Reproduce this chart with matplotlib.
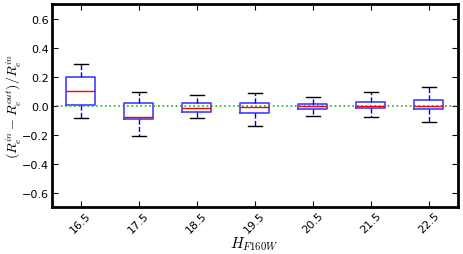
import matplotlib
matplotlib.use("Agg")
import matplotlib.pyplot as plt

plt.rcParams["mathtext.fontset"] = "cm"

mags = [16.5, 17.5, 18.5, 19.5, 20.5, 21.5, 22.5]
med = [0.10, -0.078, -0.016, -0.012, -0.004, -0.002, 0.0]
q1 = [0.007, -0.092, -0.044, -0.048, -0.023, -0.016, -0.023]
q3 = [0.195, 0.02, 0.02, 0.018, 0.014, 0.028, 0.039]
wlo = [-0.085, -0.207, -0.085, -0.143, -0.069, -0.076, -0.11]
whi = [0.29, 0.095, 0.074, 0.085, 0.057, 0.092, 0.126]

stats = []
for i, m in enumerate(mags):
    stats.append({"med": med[i], "q1": q1[i], "q3": q3[i],
                  "whislo": wlo[i], "whishi": whi[i], "fliers": [],
                  "label": str(m)})

fig = plt.figure(figsize=(4.63, 2.55), dpi=100)
ax = fig.add_axes([0.112, 0.184, 0.877, 0.796])

pos = list(range(1, len(mags) + 1))
ax.bxp(stats, positions=pos, widths=0.5, showfliers=False,
       boxprops=dict(color="b", lw=1.2, alpha=0.75),
       medianprops=dict(color="r", lw=1.0),
       whiskerprops=dict(color="b", lw=1.0, ls="--"),
       capprops=dict(color="k", lw=1.0))
ax.axhline(0, color="#22aa22", ls=":", lw=1.2)

ax.set_xlim(0.5, 7.5)
ax.set_ylim(-0.7, 0.7)
ax.set_xticks(pos)
ax.set_xticklabels([str(m) for m in mags], rotation=45, ha="center", fontsize=8)
ax.set_yticks([-0.6, -0.4, -0.2, 0.0, 0.2, 0.4, 0.6])
ax.set_yticklabels(["\u22120.6", "\u22120.4", "\u22120.2", "0.0", "0.2", "0.4", "0.6"], fontsize=8)
ax.tick_params(direction="in", top=True, right=True, length=4, pad=2)
for s in ax.spines.values():
    s.set_linewidth(2)
ax.set_xlabel(r"$H_{F160W}$", fontsize=11)
ax.xaxis.set_label_coords(0.5, -0.135)
ax.set_ylabel(r"$(R_e^{in} - R_e^{out})/R_e^{in}$", fontsize=10)
ax.yaxis.set_label_coords(-0.072, 0.5)

fig.savefig("out.png", dpi=100)
